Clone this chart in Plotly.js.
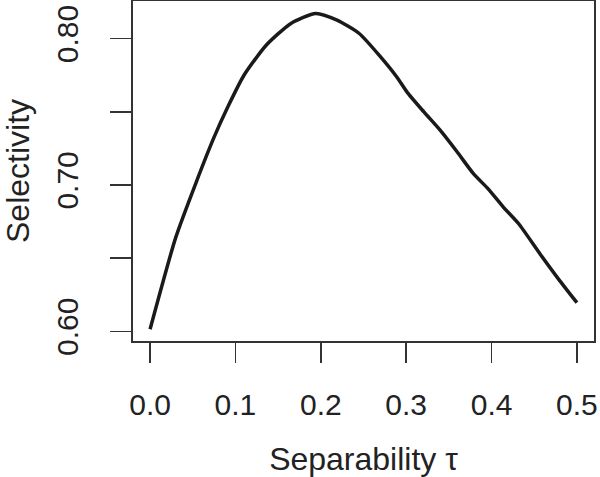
<!DOCTYPE html>
<html>
<head>
<meta charset="utf-8">
<script src="https://cdn.plot.ly/plotly-3.0.1.min.js"></script>
<style>html,body{margin:0;padding:0;background:#fff;}#chart{width:600px;height:477px;}</style>
</head>
<body>
<div id="chart"></div>
<script>
const tau = [0.000, 0.030, 0.054, 0.075, 0.091, 0.110, 0.136, 0.165, 0.194, 0.219, 0.245, 0.270, 0.289, 0.301, 0.321, 0.340, 0.360, 0.379, 0.396, 0.414, 0.432, 0.457, 0.480, 0.500];
const selectivity = [0.6014, 0.664, 0.7018, 0.7326, 0.7532, 0.7749, 0.7954, 0.8103, 0.8171, 0.8125, 0.8034, 0.7874, 0.7737, 0.7634, 0.7497, 0.7372, 0.7223, 0.7075, 0.6973, 0.6847, 0.6733, 0.6527, 0.6345, 0.6196];
const xTickVals = [0, 0.1, 0.2, 0.3, 0.4, 0.5];
const xTickText = ['0.0', '0.1', '0.2', '0.3', '0.4', '0.5'];
const yTickVals = [0.60, 0.65, 0.70, 0.75, 0.80];
const yTickText = ['0.60', '', '0.70', '', '0.80'];
const xTitle = 'Separability τ';
const yTitle = 'Selectivity';

const font = 'Liberation Sans, Arial, Helvetica, sans-serif';
const data = [{
  x: tau, y: selectivity, type: 'scatter', mode: 'lines',
  line: {color: '#1a1a1a', width: 3.5, shape: 'spline', smoothing: 0.6}, hoverinfo: 'skip'
}];
const plotW = 600 - 133 - 6;
const layout = {
  width: 600, height: 477,
  margin: {l: 133, r: 6, t: 1, b: 136},
  paper_bgcolor: '#fff', plot_bgcolor: '#fff',
  showlegend: false,
  font: {family: font, color: '#222'},
  xaxis: {
    range: [-0.02, 0.52], tickmode: 'array', tickvals: xTickVals, ticktext: xTickText,
    ticks: 'outside', ticklen: 20, tickwidth: 1.6, tickcolor: '#333',
    showline: true, mirror: true, linecolor: '#333', linewidth: 1.6,
    showgrid: false, zeroline: false,
    tickfont: {size: 30, family: font, color: '#222'},
    ticklabelstandoff: 16,
    title: {text: xTitle, font: {size: 32, family: font, color: '#222'}, standoff: 28}
  },
  yaxis: {
    range: [0.5934, 0.8256], tickmode: 'array', tickvals: yTickVals, ticktext: yTickText,
    ticks: 'outside', ticklen: 21, tickwidth: 1.6, tickcolor: '#333',
    showline: true, mirror: true, linecolor: '#333', linewidth: 1.6,
    showgrid: false, zeroline: false, tickangle: -90,
    tickfont: {size: 30, family: font, color: '#222'},
    ticklabelstandoff: 20
  },
  annotations: [{
    text: yTitle, xref: 'paper', yref: 'paper',
    x: (18 - 133) / plotW, y: 0.5, xanchor: 'center', yanchor: 'middle',
    textangle: -90, showarrow: false, borderpad: 0,
    font: {size: 32, family: font, color: '#222'}
  }]
};
Plotly.newPlot('chart', data, layout, {displayModeBar: false, staticPlot: true});
</script>
</body>
</html>
